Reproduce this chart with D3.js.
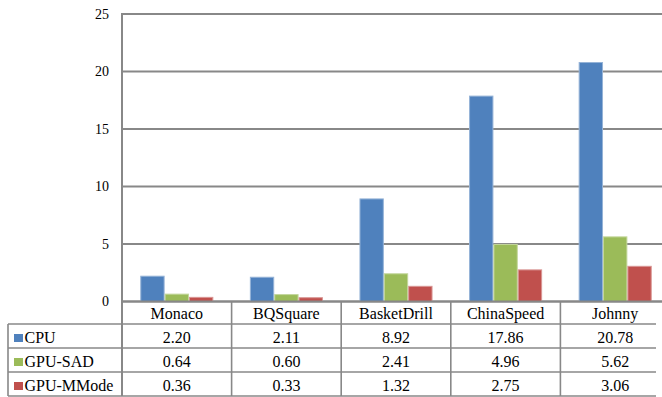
<!DOCTYPE html>
<html>
<head>
<meta charset="utf-8">
<script src="https://cdn.jsdelivr.net/npm/d3@7"></script>
<style>
  html, body { margin: 0; padding: 0; background: #fff; }
  svg { display: block; }
</style>
</head>
<body>
<svg id="chart" width="662" height="397" font-family="'Liberation Serif', 'Times New Roman', Times, 'DejaVu Serif', serif"></svg>
<script>
// Sequences and encoder series
const categories = ["Monaco", "BQSquare", "BasketDrill", "ChinaSpeed", "Johnny"];
const seriesNames = ["CPU", "GPU-SAD", "GPU-MMode"];
const cpuValues = [2.20, 2.11, 8.92, 17.86, 20.78];
const gpuSadValues = [0.64, 0.60, 2.41, 4.96, 5.62];
const gpuMModeValues = [0.36, 0.33, 1.32, 2.75, 3.06];
const yTicks = [0, 5, 10, 15, 20, 25];
const seriesColors = ["#4F81BD", "#9BBB59", "#C0504D"];
const seriesEdges = ["#95b3d7", "#c3d69b", "#d99694"];

const seriesValues = [cpuValues, gpuSadValues, gpuMModeValues];

const svg = d3.select("#chart");
const lineColor = "#888888";

const plot = { left: 122, right: 670, top: 14, bottom: 301.5 };
const table = { left: 8, right: 656, rows: [302, 324, 348, 372, 396] };

const x = d3.scaleBand().domain(categories).range([plot.left, plot.right]).padding(0);
const step = x.bandwidth();
const xInner = d3.scaleBand().domain(seriesNames)
  .range([step / 6, step - step / 6]).padding(0);
const y = d3.scaleLinear().domain([0, 25]).range([plot.bottom, plot.top]);

// Horizontal gridlines
svg.append("g").selectAll("line").data(yTicks).join("line")
  .attr("x1", plot.left).attr("x2", plot.right)
  .attr("y1", d => y(d)).attr("y2", d => y(d))
  .attr("stroke", lineColor).attr("stroke-width", 2);

// Y axis labels
svg.append("g").selectAll("text").data(yTicks).join("text")
  .attr("x", 109).attr("y", d => y(d)).attr("dy", "0.35em")
  .attr("text-anchor", "end").attr("font-size", 14)
  .text(d => d);

// Bars
const groups = svg.append("g").selectAll("g").data(categories).join("g")
  .attr("transform", c => `translate(${x(c)},0)`);
groups.selectAll("rect")
  .data((c, ci) => seriesNames.map((s, si) => ({ s, si, v: seriesValues[si][ci] })))
  .join("rect")
  .attr("x", d => xInner(d.s) + 0.5)
  .attr("width", xInner.bandwidth() - 1)
  .attr("y", d => y(d.v))
  .attr("height", d => y(0) - y(d.v))
  .attr("fill", d => seriesColors[d.si])
  .attr("stroke", d => seriesEdges[d.si])
  .attr("stroke-width", 1);

// Y axis line
svg.append("line")
  .attr("x1", plot.left).attr("x2", plot.left)
  .attr("y1", plot.top - 1).attr("y2", table.rows[4])
  .attr("stroke", lineColor).attr("stroke-width", 2);

// Data table grid
const tg = svg.append("g");
tg.selectAll("line.row").data(table.rows.slice(1)).join("line")
  .attr("class", "row")
  .attr("x1", table.left).attr("x2", table.right)
  .attr("y1", d => d).attr("y2", d => d)
  .attr("stroke", lineColor).attr("stroke-width", 1.6);
tg.append("line")
  .attr("x1", table.left).attr("x2", table.left)
  .attr("y1", table.rows[1]).attr("y2", table.rows[4])
  .attr("stroke", lineColor).attr("stroke-width", 1.6);
tg.selectAll("line.col").data(categories.slice(1)).join("line")
  .attr("class", "col")
  .attr("x1", c => x(c)).attr("x2", c => x(c))
  .attr("y1", plot.bottom).attr("y2", table.rows[4])
  .attr("stroke", lineColor).attr("stroke-width", 1.6);

// Category axis line
svg.append("line")
  .attr("x1", plot.left).attr("x2", plot.right)
  .attr("y1", plot.bottom).attr("y2", plot.bottom)
  .attr("stroke", lineColor).attr("stroke-width", 2);

const fs = 16;
// Header row: category names
svg.append("g").selectAll("text").data(categories).join("text")
  .attr("x", c => x(c) + step / 2).attr("y", table.rows[1] - 5)
  .attr("text-anchor", "middle").attr("font-size", fs)
  .text(c => c);

// Series rows: legend key, name, values
seriesNames.forEach((s, si) => {
  const top = table.rows[si + 1];
  const bottom = table.rows[si + 2];
  svg.append("rect")
    .attr("x", 14).attr("y", top + 10).attr("width", 9).attr("height", 8)
    .attr("fill", seriesColors[si]);
  svg.append("text")
    .attr("x", 24.5).attr("y", bottom - 5.5)
    .attr("font-size", fs)
    .text(s);
  svg.append("g").selectAll("text").data(categories).join("text")
    .attr("x", c => x(c) + step / 2).attr("y", bottom - 5.5)
    .attr("text-anchor", "middle").attr("font-size", fs)
    .text((c, ci) => seriesValues[si][ci].toFixed(2));
});
</script>
</body>
</html>
